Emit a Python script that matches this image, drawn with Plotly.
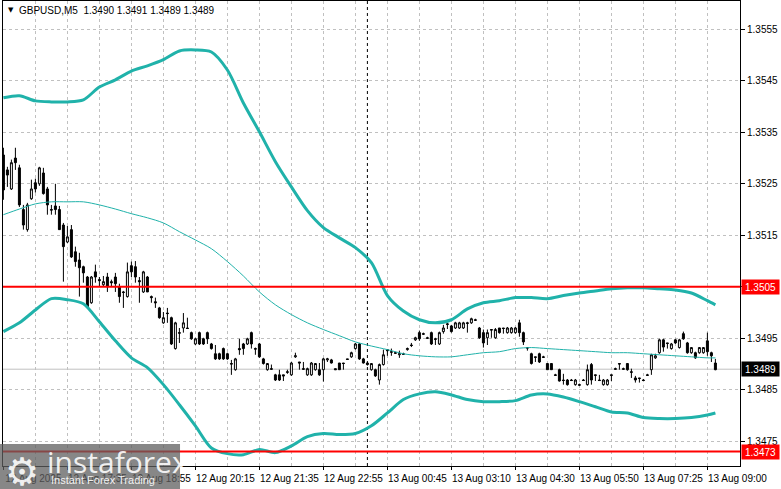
import plotly.graph_objects as go

# ------------------------
# GBPUSD M5 candles, bar index 0..178 (12 Aug 16:15 -> 13 Aug 09:10)
# ------------------------
opens = [
    1.35306, 1.35277, 1.35240, 1.35300, 1.35281, 1.35200, 1.35161, 1.35221, 1.35252, 1.35250,
    1.35271, 1.35240, 1.35200, 1.35207, 1.35200, 1.35170, 1.35137, 1.35161, 1.35118, 1.35102,
    1.35089, 1.35069, 1.35019, 1.35079, 1.35064, 1.35054, 1.35069, 1.35060, 1.35069, 1.35050,
    1.35040, 1.35031, 1.35091, 1.35089, 1.35062, 1.35040, 1.35069, 1.35031, 1.35021, 1.35009,
    1.34980, 1.34999, 1.34990, 1.34930, 1.34961, 1.34970, 1.34970, 1.34961, 1.34939, 1.34961,
    1.34949, 1.34961, 1.34939, 1.34920, 1.34920, 1.34930, 1.34920, 1.34901, 1.34889, 1.34930,
    1.34939, 1.34939, 1.34961, 1.34930, 1.34939, 1.34910, 1.34889, 1.34891, 1.34879, 1.34879,
    1.34879, 1.34885, 1.34879, 1.34914, 1.34904, 1.34891, 1.34879, 1.34879, 1.34889, 1.34889,
    1.34889, 1.34908, 1.34908, 1.34891, 1.34902, 1.34902, 1.34910, 1.34914, 1.34930, 1.34939,
    1.34910, 1.34902, 1.34889, 1.34889, 1.34869, 1.34899, 1.34928, 1.34924, 1.34922, 1.34918,
    1.34920, 1.34928, 1.34937, 1.34947, 1.34961, 1.34959, 1.34951, 1.34961, 1.34949, 1.34939,
    1.34963, 1.34978, 1.34974, 1.34970, 1.34970, 1.34970, 1.34980, 1.34980, 1.34986, 1.34970,
    1.34961, 1.34951, 1.34967, 1.34951, 1.34970, 1.34970, 1.34961, 1.34961, 1.34961, 1.34980,
    1.34961, 1.34932, 1.34920, 1.34914, 1.34920, 1.34914, 1.34901, 1.34901, 1.34879, 1.34889,
    1.34869, 1.34869, 1.34869, 1.34860, 1.34860, 1.34869, 1.34860, 1.34899, 1.34879, 1.34869,
    1.34860, 1.34860, 1.34879, 1.34891, 1.34901, 1.34891, 1.34901, 1.34885, 1.34873, 1.34873,
    1.34869, 1.34879, 1.34889, 1.34912, 1.34922, 1.34947, 1.34941, 1.34930, 1.34947, 1.34932,
    1.34959, 1.34941, 1.34922, 1.34922, 1.34922, 1.34922, 1.34945, 1.34922, 1.34902,
]
highs = [
    1.35320, 1.35283, 1.35297, 1.35320, 1.35287, 1.35209, 1.35213, 1.35258, 1.35260, 1.35283,
    1.35281, 1.35244, 1.35209, 1.35250, 1.35207, 1.35174, 1.35168, 1.35170, 1.35128, 1.35116,
    1.35091, 1.35071, 1.35071, 1.35093, 1.35069, 1.35071, 1.35077, 1.35064, 1.35077, 1.35056,
    1.35042, 1.35097, 1.35099, 1.35100, 1.35069, 1.35081, 1.35071, 1.35033, 1.35029, 1.35011,
    1.35001, 1.35009, 1.34992, 1.34982, 1.34970, 1.34999, 1.34990, 1.34963, 1.34951, 1.34963,
    1.34951, 1.34963, 1.34941, 1.34937, 1.34922, 1.34932, 1.34922, 1.34908, 1.34912, 1.34949,
    1.34941, 1.34951, 1.34963, 1.34932, 1.34941, 1.34912, 1.34902, 1.34899, 1.34881, 1.34889,
    1.34879, 1.34889, 1.34904, 1.34922, 1.34904, 1.34904, 1.34893, 1.34904, 1.34902, 1.34902,
    1.34912, 1.34912, 1.34910, 1.34891, 1.34902, 1.34902, 1.34910, 1.34924, 1.34941, 1.34941,
    1.34912, 1.34904, 1.34902, 1.34891, 1.34901, 1.34928, 1.34928, 1.34930, 1.34924, 1.34926,
    1.34922, 1.34932, 1.34941, 1.34953, 1.34965, 1.34961, 1.34953, 1.34963, 1.34951, 1.34963,
    1.34976, 1.34980, 1.34976, 1.34982, 1.34982, 1.34982, 1.34982, 1.34990, 1.34988, 1.34972,
    1.34967, 1.34967, 1.34967, 1.34970, 1.34970, 1.34970, 1.34972, 1.34972, 1.34972, 1.34986,
    1.34963, 1.34932, 1.34922, 1.34914, 1.34922, 1.34916, 1.34901, 1.34901, 1.34881, 1.34891,
    1.34881, 1.34871, 1.34871, 1.34871, 1.34862, 1.34871, 1.34899, 1.34902, 1.34879, 1.34879,
    1.34871, 1.34871, 1.34879, 1.34893, 1.34901, 1.34893, 1.34901, 1.34891, 1.34877, 1.34873,
    1.34871, 1.34881, 1.34920, 1.34920, 1.34949, 1.34949, 1.34941, 1.34941, 1.34949, 1.34949,
    1.34963, 1.34943, 1.34933, 1.34924, 1.34933, 1.34933, 1.34961, 1.34924, 1.34910,
]
lows = [
    1.35219, 1.35244, 1.35238, 1.35277, 1.35205, 1.35161, 1.35157, 1.35219, 1.35233, 1.35246,
    1.35229, 1.35190, 1.35190, 1.35190, 1.35161, 1.35060, 1.35135, 1.35106, 1.35089, 1.35031,
    1.35058, 1.35009, 1.35017, 1.35058, 1.35050, 1.35050, 1.35040, 1.35050, 1.35040, 1.35019,
    1.35009, 1.35029, 1.35069, 1.35058, 1.35019, 1.35038, 1.35040, 1.35019, 1.35009, 1.34988,
    1.34978, 1.34980, 1.34937, 1.34928, 1.34941, 1.34961, 1.34968, 1.34947, 1.34937, 1.34937,
    1.34937, 1.34939, 1.34928, 1.34908, 1.34908, 1.34908, 1.34908, 1.34879, 1.34887, 1.34918,
    1.34918, 1.34937, 1.34930, 1.34918, 1.34912, 1.34899, 1.34887, 1.34889, 1.34867, 1.34867,
    1.34867, 1.34881, 1.34877, 1.34912, 1.34889, 1.34889, 1.34877, 1.34877, 1.34887, 1.34877,
    1.34866, 1.34904, 1.34901, 1.34889, 1.34889, 1.34889, 1.34908, 1.34912, 1.34928, 1.34908,
    1.34901, 1.34897, 1.34887, 1.34875, 1.34860, 1.34897, 1.34916, 1.34916, 1.34920, 1.34912,
    1.34918, 1.34926, 1.34933, 1.34945, 1.34945, 1.34957, 1.34949, 1.34937, 1.34937, 1.34937,
    1.34959, 1.34968, 1.34961, 1.34968, 1.34968, 1.34968, 1.34961, 1.34978, 1.34984, 1.34949,
    1.34932, 1.34937, 1.34951, 1.34949, 1.34959, 1.34959, 1.34959, 1.34959, 1.34959, 1.34953,
    1.34937, 1.34926, 1.34899, 1.34904, 1.34902, 1.34912, 1.34889, 1.34889, 1.34877, 1.34866,
    1.34860, 1.34858, 1.34867, 1.34858, 1.34858, 1.34867, 1.34858, 1.34860, 1.34867, 1.34867,
    1.34858, 1.34858, 1.34867, 1.34889, 1.34889, 1.34889, 1.34887, 1.34873, 1.34864, 1.34864,
    1.34867, 1.34877, 1.34879, 1.34910, 1.34920, 1.34924, 1.34930, 1.34928, 1.34939, 1.34930,
    1.34947, 1.34920, 1.34920, 1.34910, 1.34920, 1.34920, 1.34916, 1.34904, 1.34888,
]
closes = [
    1.35238, 1.35267, 1.35291, 1.35291, 1.35209, 1.35170, 1.35209, 1.35240, 1.35240, 1.35281,
    1.35231, 1.35209, 1.35199, 1.35200, 1.35161, 1.35128, 1.35147, 1.35108, 1.35099, 1.35087,
    1.35077, 1.35011, 1.35069, 1.35069, 1.35062, 1.35060, 1.35050, 1.35058, 1.35056, 1.35031,
    1.35039, 1.35079, 1.35079, 1.35069, 1.35060, 1.35079, 1.35040, 1.35029, 1.35019, 1.34990,
    1.34990, 1.34998, 1.34939, 1.34980, 1.34960, 1.34980, 1.34969, 1.34949, 1.34949, 1.34939,
    1.34939, 1.34949, 1.34930, 1.34910, 1.34910, 1.34910, 1.34910, 1.34900, 1.34910, 1.34928,
    1.34930, 1.34949, 1.34939, 1.34929, 1.34914, 1.34901, 1.34901, 1.34890, 1.34869, 1.34869,
    1.34877, 1.34884, 1.34902, 1.34916, 1.34902, 1.34890, 1.34891, 1.34902, 1.34901, 1.34879,
    1.34910, 1.34910, 1.34902, 1.34889, 1.34889, 1.34901, 1.34909, 1.34922, 1.34939, 1.34910,
    1.34902, 1.34899, 1.34901, 1.34877, 1.34899, 1.34918, 1.34926, 1.34923, 1.34921, 1.34920,
    1.34919, 1.34930, 1.34936, 1.34951, 1.34949, 1.34958, 1.34950, 1.34939, 1.34948, 1.34961,
    1.34970, 1.34977, 1.34963, 1.34980, 1.34980, 1.34980, 1.34979, 1.34988, 1.34985, 1.34951,
    1.34941, 1.34961, 1.34966, 1.34967, 1.34961, 1.34969, 1.34970, 1.34970, 1.34970, 1.34961,
    1.34943, 1.34931, 1.34901, 1.34913, 1.34904, 1.34913, 1.34889, 1.34889, 1.34878, 1.34867,
    1.34868, 1.34860, 1.34868, 1.34869, 1.34859, 1.34868, 1.34889, 1.34869, 1.34878, 1.34868,
    1.34869, 1.34869, 1.34878, 1.34890, 1.34900, 1.34890, 1.34889, 1.34884, 1.34869, 1.34872,
    1.34868, 1.34878, 1.34918, 1.34916, 1.34947, 1.34933, 1.34940, 1.34939, 1.34941, 1.34947,
    1.34949, 1.34922, 1.34932, 1.34912, 1.34932, 1.34932, 1.34924, 1.34916, 1.34889,
]

# ------------------------
# Bollinger envelope, every 4 bars
# ------------------------
band_idx = list(range(0, 177, 4)) + [178]
upper_band = [
    1.35417, 1.35421, 1.35411, 1.35409, 1.35409, 1.35413, 1.35438, 1.35452, 1.35469, 1.35479,
    1.35491, 1.35508, 1.35510, 1.35506, 1.35471, 1.35407, 1.35351, 1.35293, 1.35244, 1.35198,
    1.35165, 1.35145, 1.35126, 1.35097, 1.35033, 1.35003, 1.34986, 1.34980, 1.34986, 1.35007,
    1.35019, 1.35023, 1.35029, 1.35029, 1.35027, 1.35033, 1.35038, 1.35042, 1.35046, 1.35048,
    1.35048, 1.35046, 1.35044, 1.35038, 1.35023, 1.35015,
]
middle_band = [
    1.35190, 1.35201, 1.35211, 1.35215, 1.35215, 1.35215, 1.35209, 1.35201, 1.35192, 1.35184,
    1.35174, 1.35157, 1.35141, 1.35124, 1.35099, 1.35071, 1.35040, 1.35015, 1.34996, 1.34980,
    1.34967, 1.34955, 1.34943, 1.34935, 1.34928, 1.34920, 1.34916, 1.34914, 1.34914, 1.34918,
    1.34922, 1.34924, 1.34930, 1.34932, 1.34930, 1.34928, 1.34926, 1.34924, 1.34922, 1.34922,
    1.34920, 1.34918, 1.34916, 1.34914, 1.34912, 1.34912,
]
lower_band = [
    1.34963, 1.34980, 1.35005, 1.35027, 1.35025, 1.35017, 1.34982, 1.34945, 1.34912, 1.34893,
    1.34860, 1.34821, 1.34780, 1.34737, 1.34726, 1.34724, 1.34734, 1.34728, 1.34741, 1.34759,
    1.34765, 1.34763, 1.34765, 1.34780, 1.34805, 1.34831, 1.34842, 1.34846, 1.34840, 1.34831,
    1.34827, 1.34827, 1.34829, 1.34840, 1.34842, 1.34836, 1.34827, 1.34817, 1.34807, 1.34805,
    1.34796, 1.34794, 1.34794, 1.34796, 1.34801, 1.34805,
]

# ------------------------
# Axis labels and levels
# ------------------------
time_idx = [0, 16, 32, 48, 64, 80, 96, 112, 128, 144, 160, 176]
time_labels = [
    "12 Aug 2025", "12 Aug 17:35", "12 Aug 18:55", "12 Aug 20:15", "12 Aug 21:35", "12 Aug 22:55",
    "13 Aug 00:45", "13 Aug 03:10", "13 Aug 04:30", "13 Aug 05:50", "13 Aug 07:25", "13 Aug 09:00",
]
grid_idx = [8, 24, 40, 56, 72, 88, 104, 120, 136, 152, 168]
price_ticks = [1.3475, 1.3485, 1.3495, 1.3505, 1.3515, 1.3525, 1.3535, 1.3545, 1.3555]
levels = [1.3505, 1.3473]
last_price = 1.3489
separator_bar = 91
header = "GBPUSD,M5\u00a0\u00a01.3490 1.3491 1.3489 1.3489"

BAND = "#20b2aa"
GRID = "#c0c0c0"
FONT = "Liberation Sans"

bars = list(range(len(closes)))

fig = go.Figure()

fig.add_trace(go.Scatter(x=band_idx, y=upper_band, mode="lines",
                         line=dict(color=BAND, width=3, shape="spline", smoothing=0.8)))
fig.add_trace(go.Scatter(x=band_idx, y=lower_band, mode="lines",
                         line=dict(color=BAND, width=3, shape="spline", smoothing=0.8)))
fig.add_trace(go.Scatter(x=band_idx, y=middle_band, mode="lines",
                         line=dict(color=BAND, width=1, shape="spline", smoothing=0.8)))

fig.add_trace(go.Candlestick(
    x=bars, open=opens, high=highs, low=lows, close=closes,
    increasing=dict(line=dict(color="black", width=1), fillcolor="white"),
    decreasing=dict(line=dict(color="black", width=1), fillcolor="black"),
    whiskerwidth=0,
))

# current price line + day separator
fig.add_shape(type="line", xref="paper", x0=0, x1=1, y0=last_price, y1=last_price,
              line=dict(color="#c0c0c0", width=1), layer="below")
fig.add_shape(type="line", x0=separator_bar, x1=separator_bar, yref="paper", y0=0, y1=1,
              line=dict(color="black", width=1, dash="3px,3px"), layer="below")

# red support / resistance levels
for lv in levels:
    fig.add_shape(type="line", xref="paper", x0=0, x1=1, y0=lv, y1=lv,
                  line=dict(color="#ff0000", width=2), layer="above")

# price boxes on the right axis
for lv, bg in [(levels[0], "#ff0000"), (last_price, "black"), (levels[1], "#ff0000")]:
    fig.add_annotation(x=1, xref="paper", xanchor="left", xshift=1, y=lv, yref="y",
                       text=f"{lv:.4f}", showarrow=False, bgcolor=bg, width=35, height=12,
                       borderpad=1, font=dict(family=FONT, size=10, color="white"))

# header
fig.add_annotation(x=0, xref="paper", xanchor="left", xshift=3, y=1, yref="paper",
                   yanchor="middle", yshift=-9, text="\u25bc", showarrow=False,
                   font=dict(family="DejaVu Sans", size=7, color="black"))
fig.add_annotation(x=0, xref="paper", xanchor="left", xshift=14, y=1, yref="paper",
                   yanchor="middle", yshift=-9, text=header, showarrow=False,
                   font=dict(family=FONT, size=10, color="black"))

# watermark
fig.add_shape(type="rect", xref="paper", yref="paper",
              x0=-0.0041, x1=0.2402, y0=-0.0495, y1=0.0473,
              fillcolor="rgba(95,95,95,0.75)", line=dict(width=0), layer="above")
fig.add_annotation(x=-0.0041, xref="paper", xanchor="left", xshift=3, y=0.0, yref="paper",
                   yanchor="middle", yshift=-6, text="\u2699", showarrow=False,
                   font=dict(family="DejaVu Sans", size=38, color="rgba(255,255,255,0.9)"))
fig.add_annotation(x=0.057, xref="paper", xanchor="left", y=0.0, yref="paper",
                   yanchor="middle", yshift=5, text="instaforex", showarrow=False,
                   font=dict(family="Open Sans", size=30, color="rgba(255,255,255,0.9)"))
fig.add_annotation(x=0.062, xref="paper", xanchor="left", y=-0.0495, yref="paper",
                   yanchor="bottom", yshift=1, text="Instant Forex Trading", showarrow=False,
                   font=dict(family=FONT, size=11, color="rgba(255,255,255,0.9)"))

fig.update_layout(
    width=781, height=489,
    margin=dict(l=3, r=41, t=1, b=23),
    paper_bgcolor="white", plot_bgcolor="white",
    showlegend=False, hovermode=False,
    font=dict(family=FONT, size=10, color="black"),
    xaxis=dict(
        range=[-0.1, 184.15], automargin=False, zeroline=False,
        showline=True, linecolor="black", linewidth=1, mirror=True,
        tickmode="array", tickvals=time_idx, ticktext=time_labels,
        ticks="outside", ticklen=3, tickcolor="black", ticklabelshift=30,
        showgrid=True, gridcolor=GRID, griddash="3px,3px",
        minor=dict(tickvals=grid_idx, showgrid=True, gridcolor=GRID, griddash="3px,3px"),
        rangeslider=dict(visible=False),
    ),
    yaxis=dict(
        range=[1.34702, 1.35605], side="right", automargin=False, zeroline=False,
        showline=True, linecolor="black", linewidth=1, mirror=True,
        tickmode="array", tickvals=price_ticks, ticktext=[f"{v:.4f}" for v in price_ticks],
        ticks="outside", ticklen=4, tickcolor="black",
        showgrid=True, gridcolor=GRID, griddash="3px,3px",
    ),
)

# page body has a default margin; drop it so the figure sits at the window origin
fig.write_html("out.html", config={"displayModeBar": False},
               post_script="document.body.style.margin='0';")
